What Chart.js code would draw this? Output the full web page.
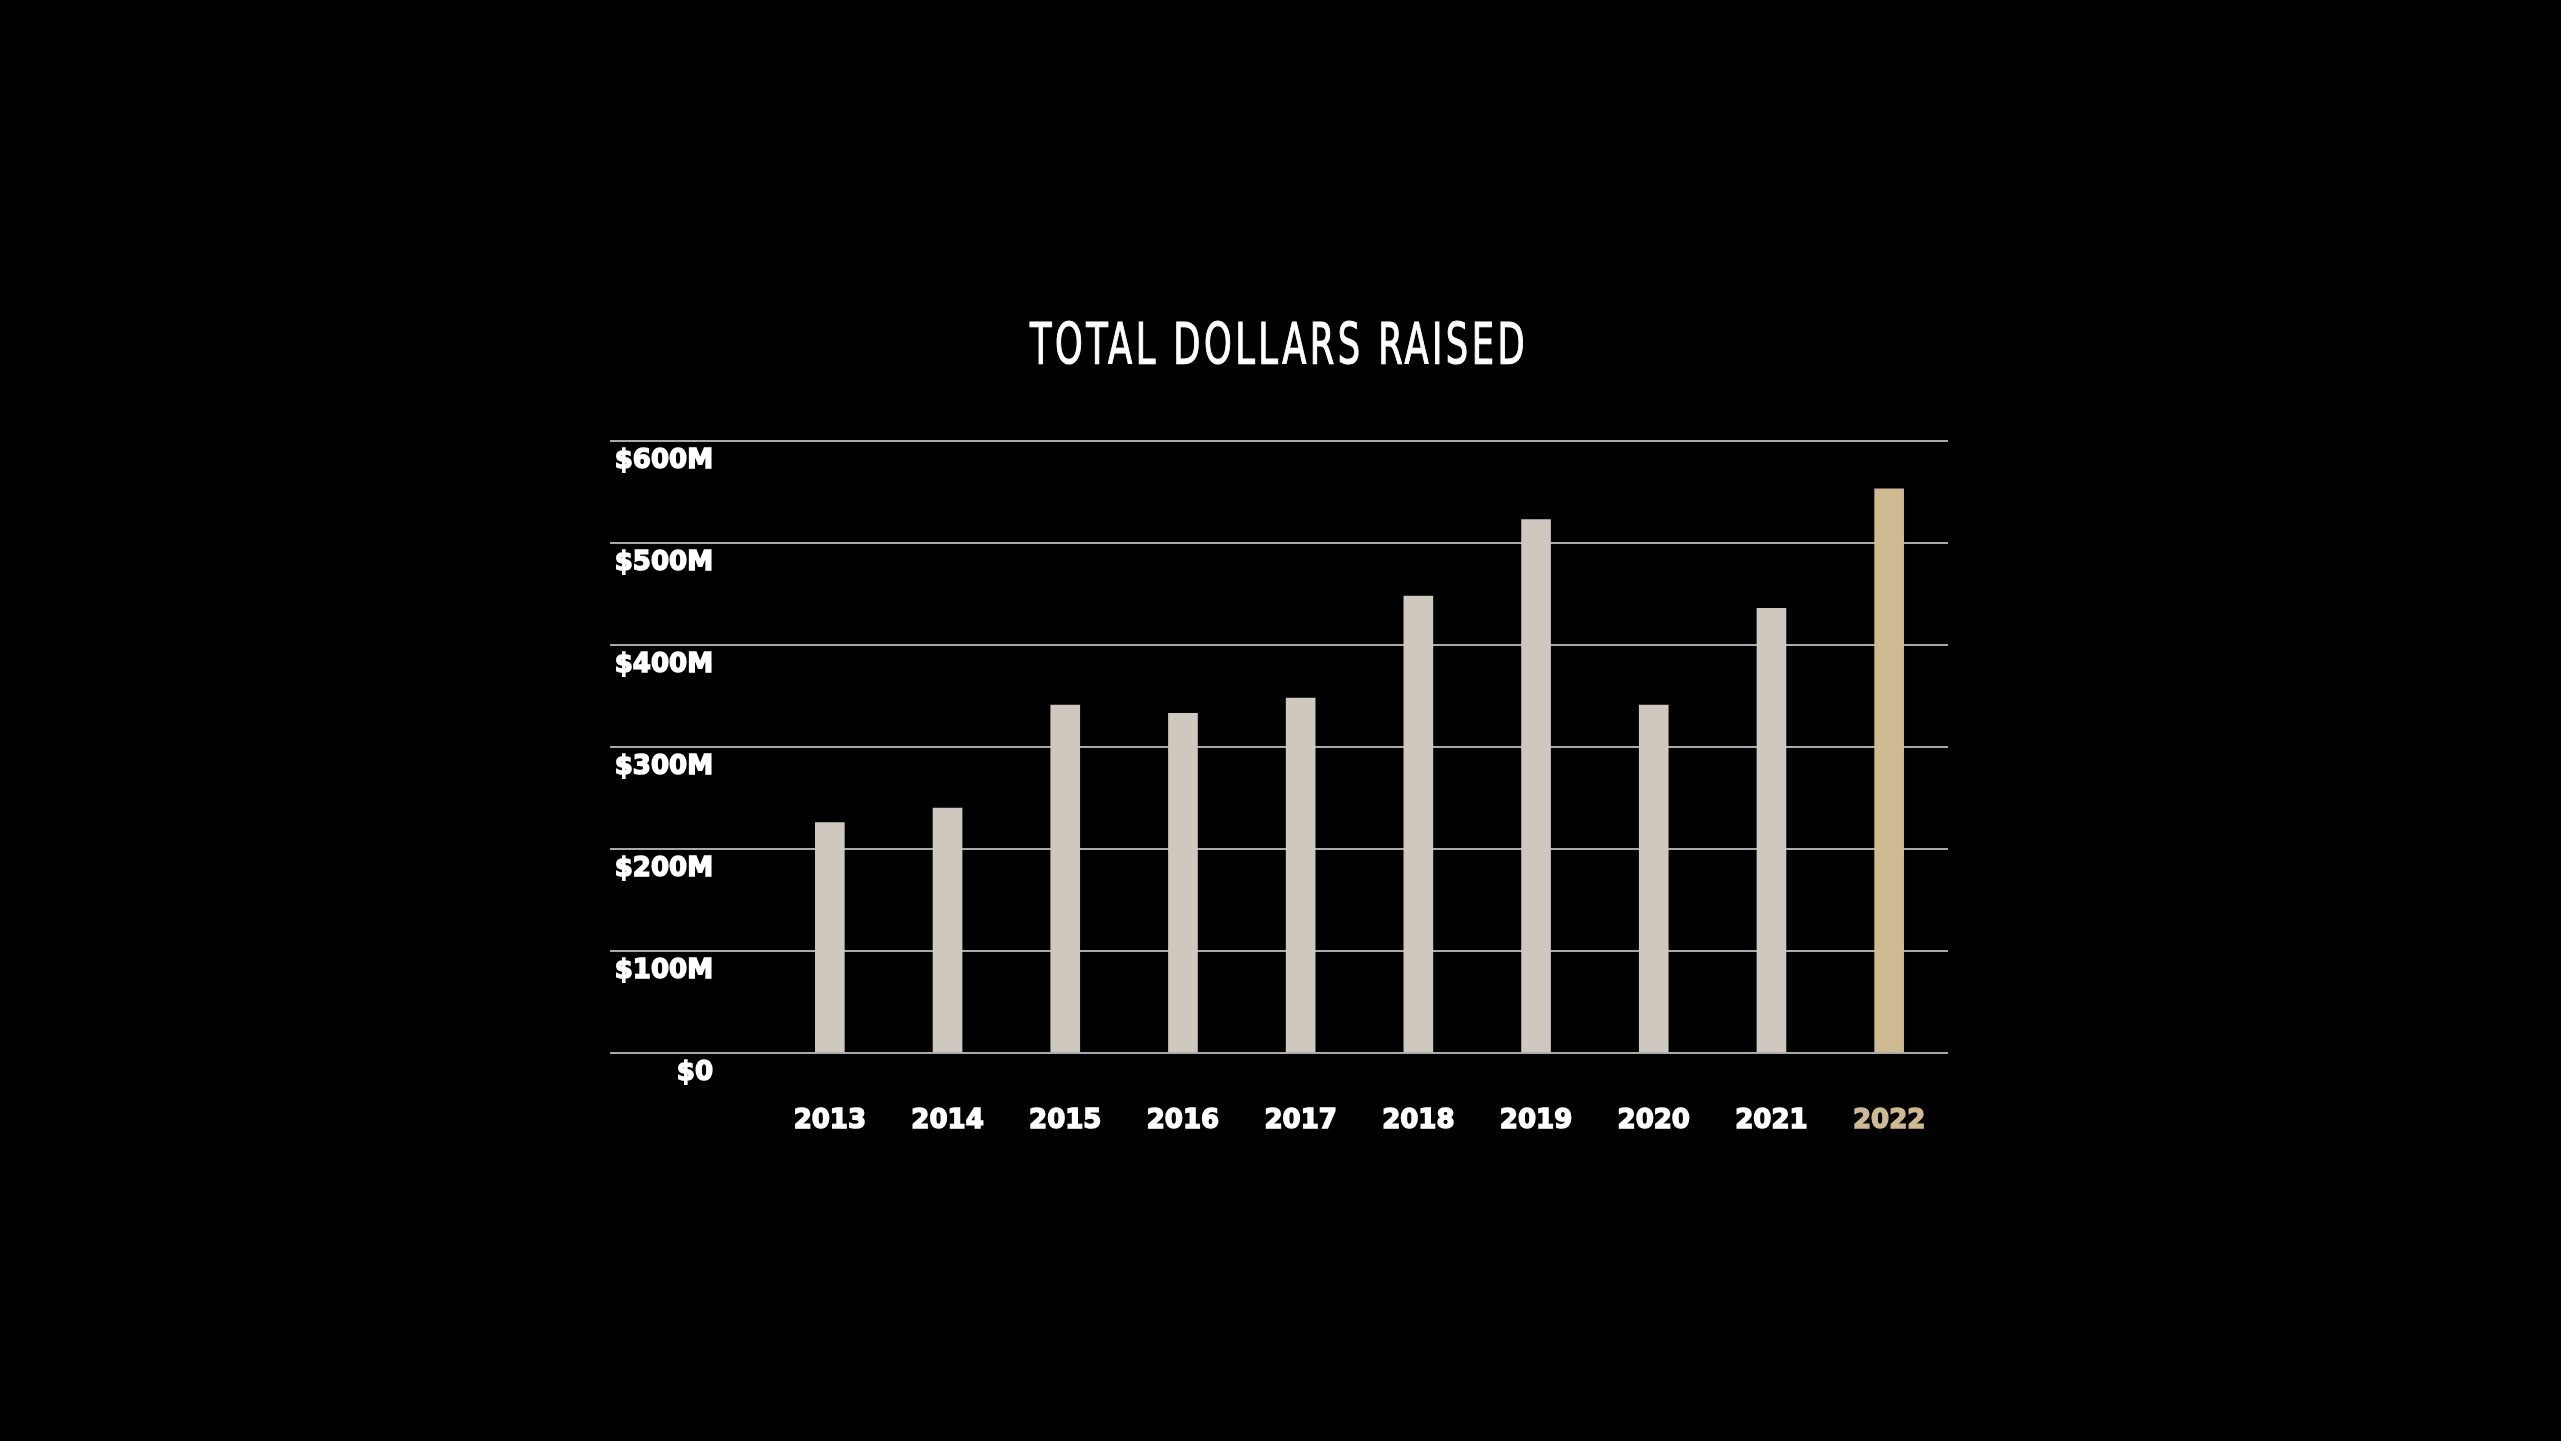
<!DOCTYPE html>
<html>
<head>
<meta charset="utf-8">
<title>Total Dollars Raised</title>
<script src="https://cdn.jsdelivr.net/npm/chart.js@4.4.1/dist/chart.umd.min.js"></script>
<style>
  html, body { margin: 0; padding: 0; background: #000; overflow: hidden; }
  canvas { display: block; }
</style>
</head>
<body>
<canvas id="raisedChart" width="2561" height="1441"></canvas>
<script>
// data (millions of dollars)
const years = ['2013', '2014', '2015', '2016', '2017', '2018', '2019', '2020', '2021', '2022'];
const raised = [226, 240, 341, 333, 348, 448, 523, 341, 436, 553];
const highlightYear = '2022';
const yTicks = [0, 100, 200, 300, 400, 500, 600];
const yTickLabels = ['$0', '$100M', '$200M', '$300M', '$400M', '$500M', '$600M'];
const titleText = 'TOTAL DOLLARS RAISED';

const GOLD = '#cfb991';
const STEEL = '#cfc8bf';
const GRID = '#a9a9a9';
const LABEL_FONT = { family: '"DejaVu Sans", sans-serif', size: 26, weight: 'bold' };

// title in a tall condensed face: squeeze a normal face horizontally
const condensedTitle = {
  id: 'condensedTitle',
  afterDraw(chart, args, opts) {
    const c = chart.ctx;
    const cx = (chart.scales.y.left + chart.chartArea.right) / 2;
    c.save();
    c.font = opts.font;
    c.letterSpacing = opts.spacing;
    c.fillStyle = opts.color;
    c.strokeStyle = opts.color;
    c.lineWidth = opts.stroke;
    c.textAlign = 'center';
    c.textBaseline = 'alphabetic';
    const w = c.measureText(opts.text).width;
    const sx = Math.min(1, opts.width / w);
    c.translate(cx, opts.baseline);
    c.scale(sx, 1);
    c.fillText(opts.text, 0, 0);
    c.strokeText(opts.text, 0, 0);
    c.restore();
  }
};

const ctx = document.getElementById('raisedChart').getContext('2d');

const chart = new Chart(ctx, {
  type: 'bar',
  data: {
    labels: years,
    datasets: [{
      data: raised,
      backgroundColor: years.map(y => y === highlightYear ? GOLD : STEEL),
      borderWidth: 0,
      barThickness: 29
    }]
  },
  options: {
    responsive: false,
    devicePixelRatio: 1,
    animation: false,
    layout: {
      padding: { top: 441, left: 610, right: 613, bottom: 288 }
    },
    plugins: {
      legend: { display: false },
      tooltip: { enabled: false },
      title: { display: false },
      condensedTitle: {
        text: titleText,
        font: '500 57px "DejaVu Sans Condensed", "DejaVu Sans", sans-serif',
        spacing: '5px',
        stroke: 1.2,
        color: '#ffffff',
        width: 498,
        baseline: 364
      }
    },
    scales: {
      x: {
        grid: { display: false, drawTicks: false },
        border: { display: false },
        ticks: {
          color: c => years[c.index] === highlightYear ? GOLD : '#ffffff',
          textStrokeColor: c => years[c.index] === highlightYear ? GOLD : '#ffffff',
          textStrokeWidth: 1.5,
          font: LABEL_FONT,
          padding: 53,
          maxRotation: 0
        },
        afterFit(scale) { scale.height = 100; }
      },
      y: {
        min: 0,
        max: 600,
        afterBuildTicks(scale) { scale.ticks = yTicks.map(v => ({ value: v })); },
        grid: {
          color: GRID,
          lineWidth: 2,
          drawTicks: true,
          tickLength: 161
        },
        border: { display: false },
        ticks: {
          color: '#ffffff',
          textStrokeColor: '#ffffff',
          textStrokeWidth: 1.5,
          font: LABEL_FONT,
          padding: -103,
          labelOffset: 20,
          callback: (value) => yTickLabels[yTicks.indexOf(value)]
        },
        afterFit(scale) { scale.width = 161; }
      }
    }
  },
  plugins: [condensedTitle]
});
</script>
</body>
</html>
